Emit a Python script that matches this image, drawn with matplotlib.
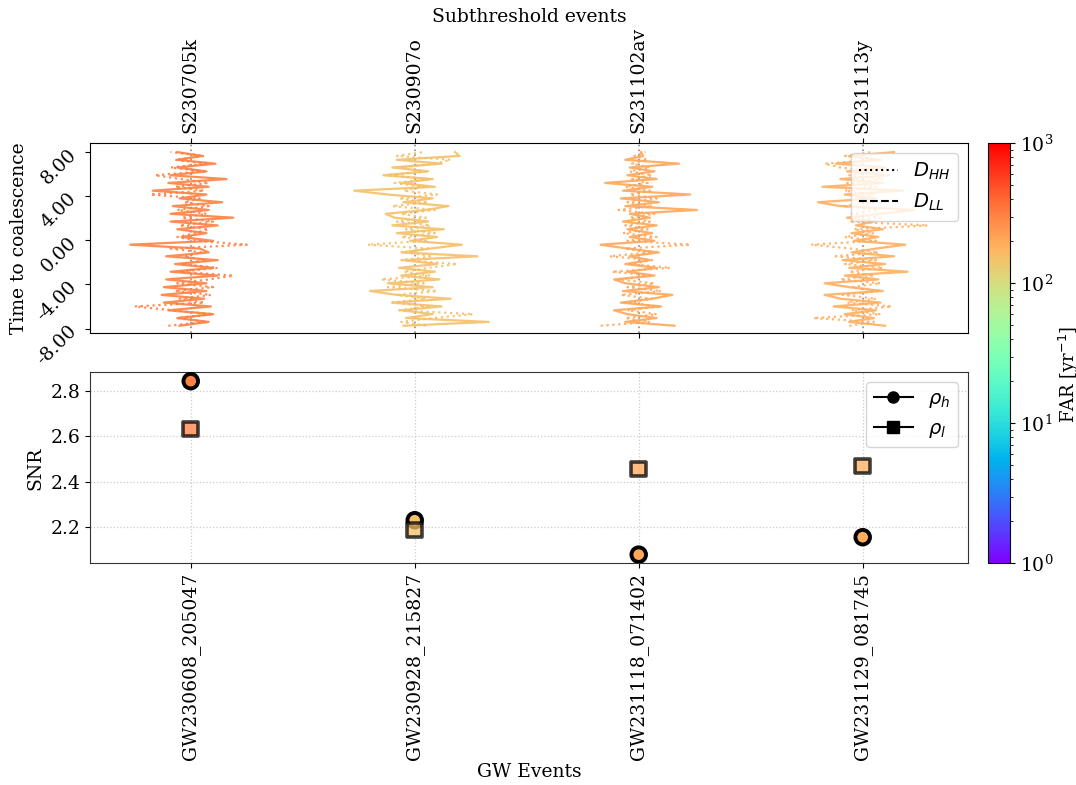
import numpy as np
import matplotlib.pyplot as plt
from matplotlib.colors import LogNorm
from matplotlib.lines import Line2D
import matplotlib.cm as cm

plt.rcParams['font.family'] = 'DejaVu Serif'
plt.rcParams['font.size'] = 13.5
plt.rcParams['axes.labelsize'] = 13.5

gw_events = ['GW230608_205047', 'GW230928_215827', 'GW231118_071402', 'GW231129_081745']
sub_events = ['S230705k', 'S230907o', 'S231102av', 'S231113y']
far = [310, 155, 205, 190]
rho_h = [2.844, 2.230, 2.078, 2.155]
rho_l = [2.632, 2.187, 2.456, 2.470]

# time samples (s) for the strain-like traces
t = np.linspace(-7.75, 8.0, 46)

# dotted traces (D_HH), offsets from the event position
dhh_1 = [-0.10, 0.07, -0.06, 0.10, -0.08, -0.25, 0.06, -0.05, 0.09, -0.07, 0.10, -0.06, 0.08, 0.19, -0.05, 0.12,
         -0.04, 0.06, -0.03, 0.05, -0.09, 0.25, 0.03, -0.06, 0.02, 0.08, -0.05, 0.10, -0.04, 0.07, -0.06, 0.08,
         -0.03, 0.04, -0.18, 0.06, -0.07, 0.08, -0.04, -0.16, 0.06, -0.09, 0.07, -0.07, 0.06, -0.09]
dhh_2 = [0.05, -0.06, 0.08, 0.26, -0.07, 0.06, -0.10, 0.05, -0.08, 0.10, -0.12, 0.04, -0.15, 0.07, -0.05, 0.06,
         0.19, -0.06, 0.08, -0.04, 0.06, -0.21, 0.05, -0.06, 0.09, -0.04, 0.07, -0.08, 0.05, -0.06, 0.09, -0.10,
         0.06, -0.07, 0.10, -0.05, 0.04, -0.09, 0.07, -0.12, 0.05, -0.06, 0.09, 0.16, -0.08, 0.04]
dhh_3 = [-0.17, 0.05, -0.06, 0.08, -0.05, 0.09, -0.04, 0.06, -0.08, 0.10, -0.05, 0.07, -0.09, 0.06, -0.12, 0.14,
         -0.04, 0.06, -0.13, 0.05, -0.06, 0.23, -0.05, 0.08, -0.07, 0.04, -0.06, 0.05, -0.04, 0.07, -0.09, 0.06,
         -0.05, 0.08, -0.04, 0.05, -0.06, 0.04, -0.03, 0.06, -0.04, 0.05, -0.03, 0.04, -0.02, 0.03]
dhh_4 = [-0.06, 0.05, -0.22, 0.08, -0.05, 0.13, -0.07, 0.06, -0.09, 0.07, -0.05, 0.08, -0.10, 0.05, -0.06, 0.09,
         -0.08, 0.06, -0.12, 0.07, -0.05, -0.23, 0.06, -0.08, 0.05, -0.04, 0.29, -0.06, 0.08, -0.05, 0.07, -0.09,
         0.06, -0.04, 0.05, -0.08, 0.06, -0.07, 0.09, -0.06, 0.05, -0.10, -0.17, 0.06, -0.08, 0.04]

# solid traces (D_LL)
dll_1 = [-0.05, 0.08, -0.06, 0.10, -0.10, 0.09, -0.12, 0.06, -0.13, 0.07, -0.12, 0.07, -0.11, 0.12, -0.09, 0.10,
         -0.07, 0.12, -0.11, 0.08, 0.04, -0.27, 0.10, -0.04, 0.07, -0.06, 0.12, -0.09, 0.19, -0.09, 0.08, -0.08,
         0.14, -0.05, 0.07, -0.17, 0.08, -0.10, 0.16, -0.09, 0.07, -0.06, 0.11, -0.06, 0.05, -0.06]
dll_2 = [-0.05, 0.33, -0.04, 0.08, -0.06, 0.12, -0.10, 0.16, -0.08, -0.20, 0.08, -0.12, 0.11, -0.06, 0.09, -0.07,
         0.10, -0.05, 0.28, -0.06, 0.07, 0.21, -0.02, 0.10, -0.08, 0.13, -0.10, 0.06, -0.09, -0.13, 0.05, 0.15,
         -0.05, 0.08, -0.12, -0.27, 0.09, -0.06, 0.08, -0.14, 0.06, -0.10, 0.12, -0.08, 0.20, 0.18]
dll_3 = [0.16, -0.06, 0.08, -0.05, -0.11, 0.10, -0.08, 0.06, 0.15, -0.07, 0.09, -0.06, -0.11, 0.07, -0.05, 0.08,
         -0.06, 0.05, -0.04, 0.09, -0.05, -0.17, 0.07, -0.04, 0.06, -0.05, 0.08, -0.07, 0.05, -0.04, 0.26, -0.06,
         0.09, -0.08, 0.23, -0.07, 0.06, -0.15, 0.08, -0.05, 0.07, -0.04, 0.18, -0.06, 0.02, 0.01]
dll_4 = [0.10, -0.06, 0.05, -0.08, 0.06, -0.13, 0.08, -0.10, -0.17, 0.09, -0.06, -0.17, 0.07, -0.08, 0.20, -0.06,
         0.10, -0.09, 0.14, -0.05, 0.06, 0.19, -0.04, 0.07, -0.05, 0.09, -0.03, 0.05, -0.07, 0.08, 0.23, -0.10,
         -0.20, 0.06, -0.08, 0.18, -0.18, 0.09, -0.10, 0.12, -0.07, 0.10, -0.12, 0.08, -0.06, 0.14]

dhh = [dhh_1, dhh_2, dhh_3, dhh_4]
dll = [dll_1, dll_2, dll_3, dll_4]

cmap = plt.get_cmap('rainbow')
norm = LogNorm(vmin=1, vmax=1000)
x = np.arange(len(gw_events))

fig = plt.figure(figsize=(10.76, 7.85), dpi=100)
ax1 = fig.add_axes([0.0836, 0.5752, 0.816, 0.2426])
ax2 = fig.add_axes([0.0836, 0.2824, 0.816, 0.2431])
cax = fig.add_axes([0.9182, 0.2824, 0.0204, 0.535])

# top panel: traces
for i in range(len(gw_events)):
    col = cmap(norm(far[i]))
    ax1.plot(x[i] + np.array(dhh[i]), t, ls=':', color=col, lw=1.6, alpha=0.9)
    ax1.plot(x[i] + np.array(dll[i]), t, ls='-', color=col, lw=1.6, alpha=0.9)

ax1.grid(axis='x', ls=':', color='0.6', lw=1.3)
ax1.set_xlim(-0.45, 3.47)
ax1.set_ylim(-8.45, 8.82)
ax1.set_yticks([-8, -4, 0, 4, 8])
ax1.set_yticklabels(['%.2f' % v for v in [-8, -4, 0, 4, 8]], rotation=45)
ax1.set_ylabel('Time to coalescence')
ax1.set_xticks(x)
ax1.set_xticklabels(sub_events, rotation=90)
ax1.tick_params(axis='x', top=True, labeltop=True, bottom=True, labelbottom=False)
ax1.xaxis.set_label_position('top')
ax1.set_xlabel('Subthreshold events')

leg1 = [Line2D([], [], color='k', ls=':', label='$D_{HH}$'),
        Line2D([], [], color='k', ls='--', label='$D_{LL}$')]
ax1.legend(handles=leg1, loc='upper right', fontsize=14)

# bottom panel: SNR
ax2.scatter(x, rho_h, c=far, cmap=cmap, norm=norm, marker='o', s=110,
            edgecolors='k', linewidths=2.8, zorder=3)
ax2.scatter(x, rho_l, c=far, cmap=cmap, norm=norm, marker='s', s=110,
            edgecolors='k', linewidths=2.6, alpha=0.75, zorder=4)
ax2.grid(ls=':', color='0.8', lw=0.9)
ax2.set_xlim(-0.45, 3.47)
ax2.set_ylabel('SNR')
ax2.set_xlabel('GW Events', labelpad=2)
ax2.set_xticks(x)
ax2.set_xticklabels(gw_events, rotation=90)
ax2.set_yticks([2.2, 2.4, 2.6, 2.8])
for sp in ax2.spines.values():
    sp.set_color('0.2')

leg2 = [Line2D([], [], color='k', marker='o', ms=8, label=r'$\rho_h$'),
        Line2D([], [], color='k', marker='s', ms=8, label=r'$\rho_l$')]
ax2.legend(handles=leg2, loc='upper right', fontsize=14)

sm = cm.ScalarMappable(norm=norm, cmap=cmap)
cb = fig.colorbar(sm, cax=cax)
cb.set_label('FAR [yr$^{-1}$]', fontsize=13)
cb.ax.yaxis.set_label_coords(3.12, 0.45)

fig.savefig('out.png', dpi=100)
